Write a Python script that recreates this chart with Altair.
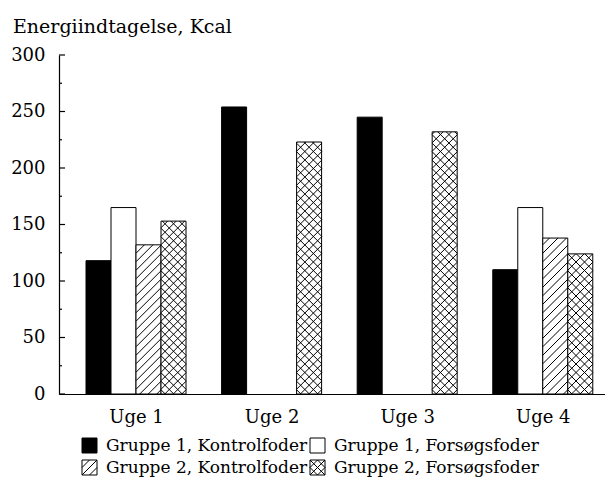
import json
import altair as alt
import numpy as np
import pandas as pd

# ---------------- data ----------------
weeks = ["Uge 1", "Uge 2", "Uge 3", "Uge 4"]
series = [
    "Gruppe 1, Kontrolfoder",
    "Gruppe 1, Forsøgsfoder",
    "Gruppe 2, Kontrolfoder",
    "Gruppe 2, Forsøgsfoder",
]
g1_kontrol = [118, 254, 245, 110]
g1_forsog = [165, None, None, 165]
g2_kontrol = [132, None, None, 138]
g2_forsog = [153, 223, 232, 124]
y_major = [0, 50, 100, 150, 200, 250, 300]
y_minor = [25, 75, 125, 175, 225, 275]

# ---------------- styles / layout ----------------
hatch_kind = ["none", "none", "single", "cross"]
legend_fill = ["black", "white", "white", "white"]
legend_stroke = ["black", "black", "black", "black"]
SQ = "M-1,-1H1V1H-1Z"
legend_shapes = [
    SQ,
    SQ,
    SQ + "M-1,0L0,-1M-1,1L1,-1M0,1L1,0",
    SQ + "M-1,-1L1,1M-1,1L1,-1M0,-1L1,0L0,1L-1,0L0,-1",
]
FONT = "DejaVu Serif"
W, H = 546, 339
X_DOM = [-0.568, 3.459]
PX_X = W / (X_DOM[1] - X_DOM[0])
PX_Y = H / 300.0
BAR_PX = 25.0
BW = BAR_PX / PX_X
SPACING = 8.5

all_vals = [g1_kontrol, g1_forsog, g2_kontrol, g2_forsog]
rows = []
hatch_rows = []


def hatch_segments(x0, v, kind):
    w = BAR_PX
    h = v * PX_Y
    segs = []
    if kind in ("single", "cross"):
        for c in np.arange(-w + SPACING / 2, h, SPACING):
            sx = max(0.0, -c)
            ex = min(w, h - c)
            if ex - sx > 0.5:
                segs.append((sx, sx + c, ex, ex + c))
    if kind == "cross":
        for c in np.arange(SPACING / 2, h + w, SPACING):
            sx = max(0.0, c - h)
            ex = min(w, c)
            if ex - sx > 0.5:
                segs.append((sx, c - sx, ex, c - ex))
    return [
        dict(x=x0 + a / PX_X, y=b / PX_Y, x2=x0 + cc / PX_X, y2=d / PX_Y)
        for a, b, cc, d in segs
    ]


for j, (name, vals) in enumerate(zip(series, all_vals)):
    for i, v in enumerate(vals):
        if v is None:
            continue
        x0 = i + (j - 2) * BW
        rows.append(dict(series=name, week=weeks[i], x0=x0, x1=x0 + BW,
                         value=v, base=0, idx=j))
        hatch_rows.extend(hatch_segments(x0, v, hatch_kind[j]))

bars = pd.DataFrame(rows)
hatch = pd.DataFrame(hatch_rows)

# helper points that only feed the legend; hidden inside the tallest black bar
tallest = bars.loc[bars["value"].idxmax()]
legend_df = pd.DataFrame({
    "series": series,
    "hx": [(tallest["x0"] + tallest["x1"]) / 2] * len(series),
    "hy": [tallest["value"] / 2] * len(series),
})

xscale = alt.Scale(domain=X_DOM, nice=False, zero=False)
yscale = alt.Scale(domain=[0, 300], nice=False)

label_expr = json.dumps(weeks) + "[datum.value]"

leg = alt.Legend(
    title=None, orient="none", legendX=22, legendY=382, columns=2,
    direction="horizontal", symbolSize=225, symbolStrokeWidth=1,
    symbolStrokeColor="black", symbolOpacity=1, labelFont=FONT,
    labelFontSize=17, labelColor="black", labelOffset=8, columnPadding=0,
    rowPadding=3, padding=0, labelLimit=400,
)

legend_layer = alt.Chart(legend_df).mark_point(
    filled=True, strokeWidth=1, size=30
).encode(
    x=alt.X("hx:Q", scale=xscale, title=None),
    y=alt.Y("hy:Q", scale=yscale, title=None),
    fill=alt.Fill("series:N", scale=alt.Scale(domain=series, range=legend_fill),
                  legend=leg),
    stroke=alt.Stroke("series:N", scale=alt.Scale(domain=series, range=legend_stroke),
                      legend=leg),
    shape=alt.Shape("series:N", scale=alt.Scale(domain=series, range=legend_shapes),
                    legend=leg),
)

bar_layer = alt.Chart(bars).mark_rect(stroke="black", strokeWidth=1).encode(
    x=alt.X("x0:Q", scale=xscale, title=None,
            axis=alt.Axis(values=[0, 1, 2, 3], labelExpr=label_expr, ticks=False,
                          grid=False, domainColor="black", domainWidth=1.2,
                          labelFont=FONT, labelFontSize=18, labelColor="black",
                          labelPadding=14, labelFlush=False)),
    x2="x1:Q",
    y=alt.Y("value:Q", scale=yscale, title=None,
            axis=alt.Axis(values=y_major, ticks=False, grid=False,
                          domainColor="black", domainWidth=1.2,
                          labelFont=FONT, labelFontSize=18, labelColor="black",
                          labelPadding=14)),
    y2="base:Q",
    fill=alt.condition(alt.datum.idx == 0, alt.value("black"), alt.value("white")),
)

hatch_layer = alt.Chart(hatch).mark_rule(color="black", strokeWidth=1).encode(
    x=alt.X("x:Q", title=None), x2="x2:Q", y=alt.Y("y:Q", title=None), y2="y2:Q"
)

major_ticks = alt.Chart(pd.DataFrame({"v": y_major})).mark_rule(
    color="black", strokeWidth=1.2
).encode(y=alt.Y("v:Q", title=None), x=alt.value(0), x2=alt.value(6))

minor_ticks = alt.Chart(pd.DataFrame({"v": y_minor})).mark_rule(
    color="black", strokeWidth=1.2
).encode(y=alt.Y("v:Q", title=None), x=alt.value(0), x2=alt.value(3))

chart = alt.layer(
    legend_layer, bar_layer, hatch_layer, major_ticks, minor_ticks
).properties(
    width=W,
    height=H,
    padding={"left": 51, "top": 47, "right": 0, "bottom": 83},
    autosize=alt.AutoSizeParams(type="none"),
    background="white",
    title=alt.TitleParams(
        "Energiindtagelse, Kcal", anchor="start", frame="group", dx=-46,
        dy=20, offset=14, baseline="alphabetic", font=FONT, fontSize=19,
        fontWeight="normal", color="black",
    ),
).configure_view(stroke=None)

chart.save("out.html", embed_options={"renderer": "svg", "actions": False})
